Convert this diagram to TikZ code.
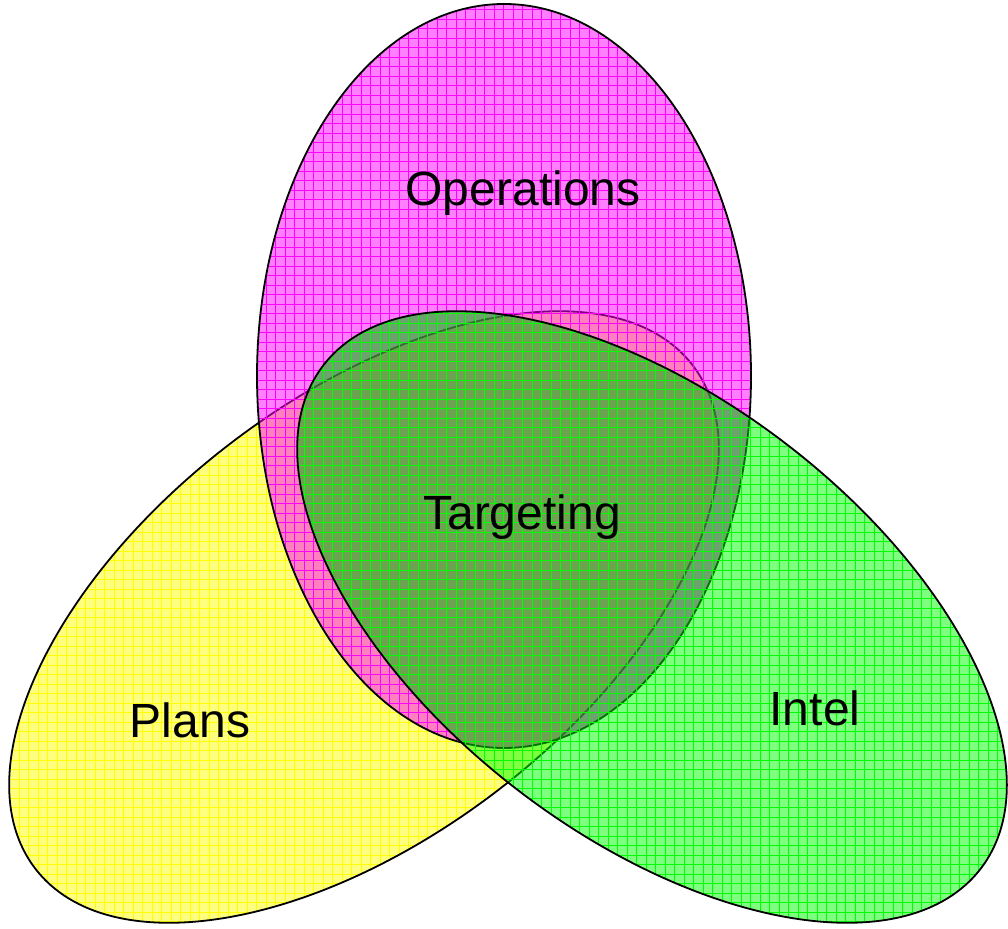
\documentclass[tikz,border=0pt]{standalone}
\usepackage{fontspec}
\setmainfont{Liberation Sans}
\definecolor{cY}{RGB}{255,255,0}
\definecolor{cM}{RGB}{255,0,255}
\definecolor{cG}{RGB}{0,255,0}
\begin{document}
\begin{tikzpicture}[x=1pt,y=1pt]
\tikzset{
  Yell/.style={shift={(364,-617)}, rotate=37.4},
  Mell/.style={shift={(504,-376)}},
  Gell/.style={shift={(652,-617)}, rotate=-37.4},
  gridline/.style={line width=0.8pt},
  outline/.style={draw=black, line width=1.8pt},
  lbl/.style={font=\fontsize{48}{56}\selectfont, anchor=base, inner sep=0pt, text=black},
}
\newcommand{\tiltell}{(0,0) ellipse [x radius=414, y radius=219]}
\newcommand{\vertell}{(0,0) ellipse [x radius=247, y radius=372]}
\useasboundingbox (0,0) rectangle (1008,-928);
\fill[white] (0,0) rectangle (1008,-928);
% Plans (yellow)
\fill[Yell, cY, fill opacity=0.5] \tiltell;
\begin{scope}
  \clip[Yell] \tiltell;
  \draw[gridline, cY] (-20,20) grid [step=9.5] (1030,-950);
\end{scope}
\draw[Yell, outline] \tiltell;
% Operations (magenta)
\fill[Mell, cM, fill opacity=0.5] \vertell;
\begin{scope}
  \clip[Mell] \vertell;
  \draw[gridline, cM] (-20,20) grid [step=9.5] (1030,-950);
\end{scope}
\draw[Mell, outline] \vertell;
% Intel (green)
\fill[Gell, cG, fill opacity=0.5] \tiltell;
\begin{scope}
  \clip[Mell] \vertell;
  \fill[Gell, black, fill opacity=0.15] \tiltell;
\end{scope}
\begin{scope}
  \clip[Gell] \tiltell;
  \draw[gridline, cG] (-20,20) grid [step=9.5] (1030,-950);
\end{scope}
\draw[Gell, outline] \tiltell;
% labels
\node[lbl] (ops) at (523,-205) {Operations};
\node[lbl] (tgt) at (522,-529) {Targeting};
\node[lbl] (pln) at (190,-737) {Plans};
\node[lbl] (int) at (815,-725) {Intel};
\end{tikzpicture}
\end{document}
